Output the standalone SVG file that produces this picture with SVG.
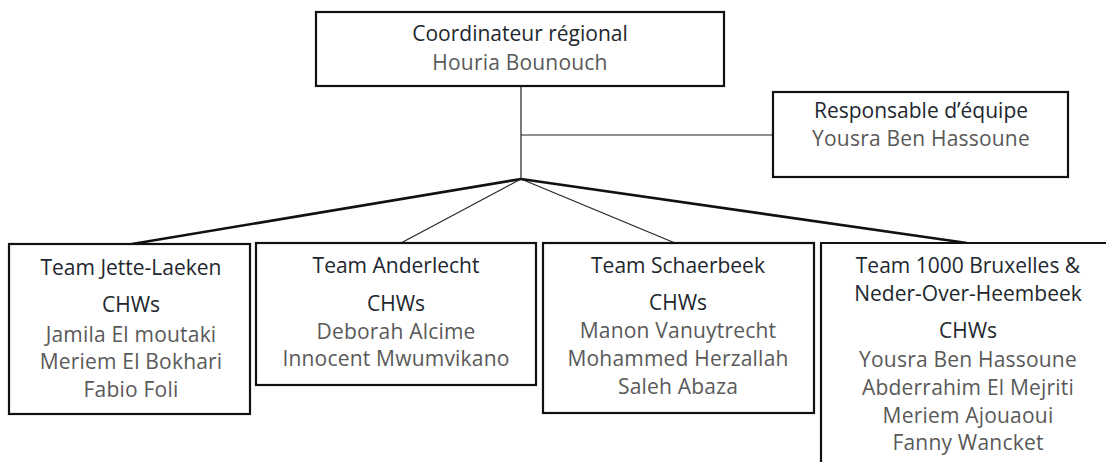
<svg xmlns="http://www.w3.org/2000/svg" width="1106" height="462" viewBox="0 0 1106 462">
<style>
.box{fill:#fff;stroke:#111;stroke-width:2.2}
.t{font-family:"Open Sans","Liberation Sans",sans-serif;font-size:21px;font-weight:500;fill:#22272e;text-anchor:middle}
.n{font-family:"Open Sans","Liberation Sans",sans-serif;font-size:21px;font-weight:400;fill:#595959;text-anchor:middle;letter-spacing:0.2px}
.thick{stroke:#111;stroke-width:2.6;fill:none}
.thin{stroke:#222;stroke-width:1.2;fill:none}
</style>
<rect width="1106" height="462" fill="#fff"/>
<g id="connectors">
<line class="thin" x1="521" y1="86" x2="521" y2="179"/>
<line class="thin" x1="521" y1="135" x2="773" y2="135"/>
<line class="thick" x1="521" y1="179" x2="132" y2="244"/>
<line class="thin" x1="521" y1="179" x2="401" y2="243"/>
<line class="thin" x1="521" y1="179" x2="675" y2="243"/>
<line class="thick" x1="521" y1="179" x2="967" y2="243"/>
</g>
<g id="coordinateur">
<rect class="box" x="316" y="12" width="408" height="74"/>
<text class="t" x="520" y="41">Coordinateur régional</text>
<text class="n" x="520" y="70">Houria Bounouch</text>
</g>
<g id="responsable">
<rect class="box" x="773" y="92" width="295" height="85"/>
<text class="t" x="921" y="118">Responsable d’équipe</text>
<text class="n" x="921" y="146">Yousra Ben Hassoune</text>
</g>
<g id="team-jette">
<rect class="box" x="9" y="244" width="241" height="170"/>
<text class="t" x="131" y="275">Team Jette-Laeken</text>
<text class="t" x="131" y="312">CHWs</text>
<text class="n" x="131" y="342">Jamila El moutaki</text>
<text class="n" x="131" y="369">Meriem El Bokhari</text>
<text class="n" x="131" y="397">Fabio Foli</text>
</g>
<g id="team-anderlecht">
<rect class="box" x="256" y="243" width="280" height="142"/>
<text class="t" x="396" y="273">Team Anderlecht</text>
<text class="t" x="396" y="311">CHWs</text>
<text class="n" x="396" y="339">Deborah Alcime</text>
<text class="n" x="396" y="366">Innocent Mwumvikano</text>
</g>
<g id="team-schaerbeek">
<rect class="box" x="543" y="243" width="271" height="170"/>
<text class="t" x="678" y="273">Team Schaerbeek</text>
<text class="t" x="678" y="310">CHWs</text>
<text class="n" x="678" y="338">Manon Vanuytrecht</text>
<text class="n" x="678" y="366">Mohammed Herzallah</text>
<text class="n" x="678" y="394">Saleh Abaza</text>
</g>
<g id="team-bruxelles">
<path class="box" d="M821 462 V243 H1108" fill="none"/>
<text class="t" x="968" y="273">Team 1000 Bruxelles &amp;</text>
<text class="t" x="968" y="301">Neder-Over-Heembeek</text>
<text class="t" x="968" y="338">CHWs</text>
<text class="n" x="968" y="367">Yousra Ben Hassoune</text>
<text class="n" x="968" y="395">Abderrahim El Mejriti</text>
<text class="n" x="968" y="423">Meriem Ajouaoui</text>
<text class="n" x="968" y="450">Fanny Wancket</text>
</g>
</svg>
